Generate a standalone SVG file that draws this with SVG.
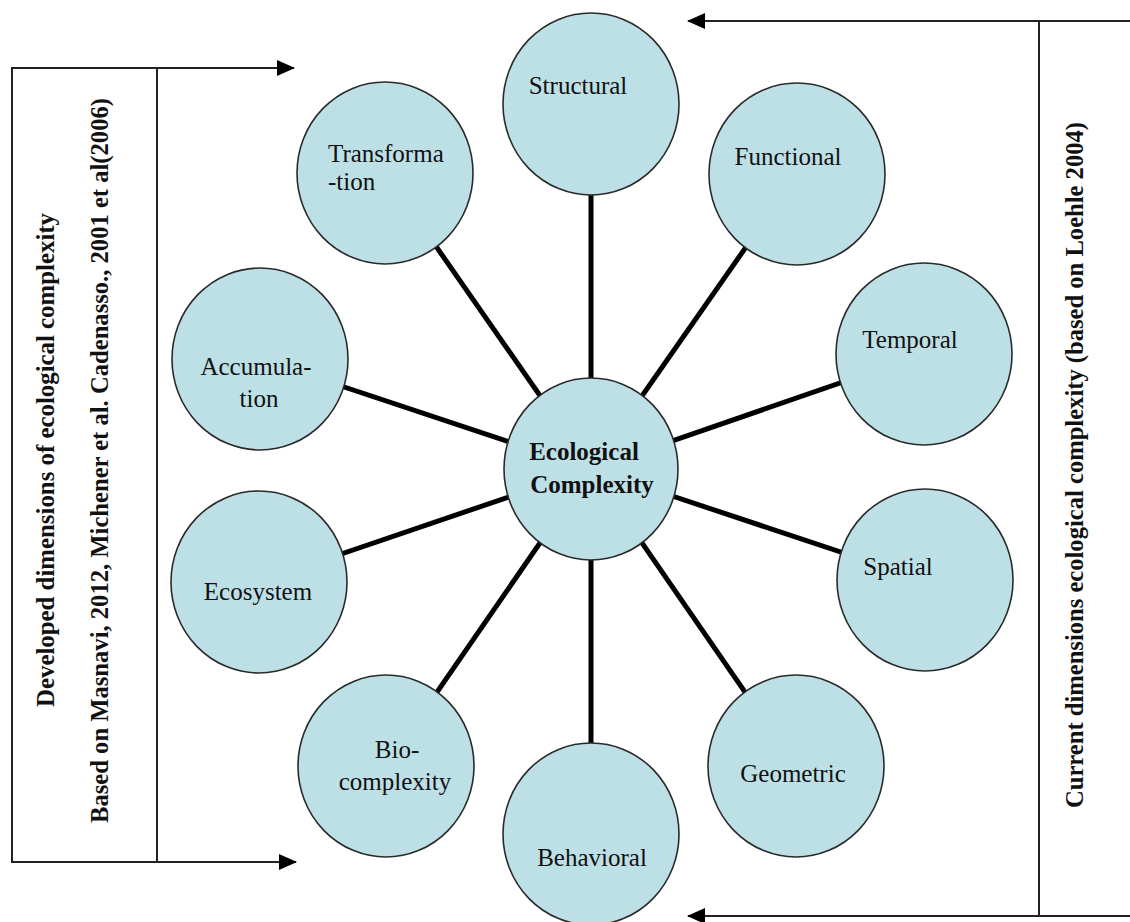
<svg xmlns="http://www.w3.org/2000/svg" width="1130" height="922" viewBox="0 0 1130 922">
<defs>
<marker id="ah" markerUnits="userSpaceOnUse" markerWidth="18" markerHeight="16" refX="17" refY="8" orient="auto">
<path d="M0,0 L18,8 L0,16 Z" fill="#000"/>
</marker>
<style>
.node ellipse{fill:#bde0e6;stroke:#2a2a2a;stroke-width:1.6}
.lbl{font-family:"Liberation Serif","Times New Roman",serif;font-size:25px;fill:#111;text-anchor:middle}
.side{font-family:"Liberation Serif","Times New Roman",serif;font-size:26px;font-weight:bold;fill:#111}
.spoke{stroke:#000;stroke-width:5;fill:none}
.frame{stroke:#222;stroke-width:2;fill:none}
</style>
</defs>
<rect width="1130" height="922" fill="#fff"/>
<g id="connectors">
<line class="spoke" x1="591" y1="469" x2="591" y2="104"/>
<line class="spoke" x1="591" y1="469" x2="797" y2="174"/>
<line class="spoke" x1="591" y1="469" x2="924" y2="354"/>
<line class="spoke" x1="591" y1="469" x2="925" y2="580"/>
<line class="spoke" x1="591" y1="469" x2="796" y2="766"/>
<line class="spoke" x1="591" y1="469" x2="591" y2="834"/>
<line class="spoke" x1="591" y1="469" x2="386" y2="766"/>
<line class="spoke" x1="591" y1="469" x2="259" y2="582"/>
<line class="spoke" x1="591" y1="469" x2="260" y2="359"/>
<line class="spoke" x1="591" y1="469" x2="385" y2="173"/>
<path class="frame" d="M157,68 H12 V862 H157 M157,68 V862"/>
<path class="frame" d="M157,68 H294" marker-end="url(#ah)"/>
<path class="frame" d="M157,862 H296" marker-end="url(#ah)"/>
<path class="frame" d="M1130,21 H688" marker-end="url(#ah)"/>
<path class="frame" d="M1039,21 V916 H1130"/>
<path class="frame" d="M1039,916 H688" marker-end="url(#ah)"/>
</g>
<g id="left-box-text">
<text class="side" transform="translate(54,707) rotate(-90)" textLength="494" lengthAdjust="spacingAndGlyphs">Developed dimensions of ecological complexity</text>
<text class="side" transform="translate(108,823) rotate(-90)" textLength="725" lengthAdjust="spacingAndGlyphs">Based on Masnavi, 2012, Michener et al. Cadenasso., 2001 et al(2006)</text>
</g>
<g id="right-box-text">
<text class="side" transform="translate(1083,808) rotate(-90)" textLength="686" lengthAdjust="spacingAndGlyphs">Current dimensions ecological complexity (based on Loehle 2004)</text>
</g>
<g id="n-structural" class="node"><ellipse cx="591" cy="104" rx="88" ry="91"/><text class="lbl" x="578" y="94">Structural</text></g>
<g id="n-functional" class="node"><ellipse cx="797" cy="174" rx="88" ry="91"/><text class="lbl" x="788" y="165">Functional</text></g>
<g id="n-temporal" class="node"><ellipse cx="924" cy="354" rx="88" ry="91"/><text class="lbl" x="910" y="348">Temporal</text></g>
<g id="n-spatial" class="node"><ellipse cx="925" cy="580" rx="88" ry="91"/><text class="lbl" x="898" y="575">Spatial</text></g>
<g id="n-geometric" class="node"><ellipse cx="796" cy="766" rx="88" ry="91"/><text class="lbl" x="793" y="782">Geometric</text></g>
<g id="n-behavioral" class="node"><ellipse cx="591" cy="834" rx="88" ry="91"/><text class="lbl" x="592" y="866">Behavioral</text></g>
<g id="n-biocomplexity" class="node"><ellipse cx="386" cy="766" rx="88" ry="91"/><text class="lbl" x="397" y="758">Bio-</text><text class="lbl" x="395" y="790">complexity</text></g>
<g id="n-ecosystem" class="node"><ellipse cx="259" cy="582" rx="88" ry="91"/><text class="lbl" x="258" y="600">Ecosystem</text></g>
<g id="n-accumulation" class="node"><ellipse cx="260" cy="359" rx="88" ry="91"/><text class="lbl" x="256" y="375">Accumula-</text><text class="lbl" x="259" y="407">tion</text></g>
<g id="n-transformation" class="node"><ellipse cx="385" cy="173" rx="88" ry="91"/><text class="lbl" x="328" y="162" style="text-anchor:start">Transforma</text><text class="lbl" x="328" y="190" style="text-anchor:start">-tion</text></g>
<g id="n-center" class="node"><ellipse cx="591" cy="469" rx="87" ry="91"/><text class="lbl" x="584" y="460" font-weight="bold">Ecological</text><text class="lbl" x="592" y="493" font-weight="bold">Complexity</text></g>
</svg>
